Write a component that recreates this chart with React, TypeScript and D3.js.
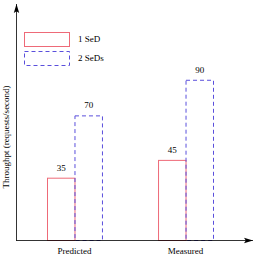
import React, { useRef, useEffect } from "react";
import * as d3 from "d3";

const categories = ["Predicted", "Measured"];
const seriesNames = ["1 SeD", "2 SeDs"];
const oneSeD = [35, 45];
const twoSeDs = [70, 90];

const RED = "#ee6a78";
const BLUE = "#5a4fdc";

export default function App() {
  const svgRef = useRef<SVGSVGElement>(null);

  useEffect(() => {
    if (!svgRef.current) return;
    const width = 257;
    const height = 257;
    const font = "'Liberation Serif', 'DejaVu Serif', serif";

    d3.select(svgRef.current).selectAll("*").remove();
    const svg = d3.select(svgRef.current).attr("width", width).attr("height", height);

    const x0 = 16;
    const y0 = 240;

    // value scale
    const y = d3.scaleLinear().domain([0, 132]).range([y0, y0 - 235]);

    // category bands
    const x = d3.scaleBand().domain(categories).range([47, 213]).paddingInner(0.505).paddingOuter(0);
    const xs = d3.scaleBand().domain(seriesNames).range([0, x.bandwidth()]);

    const defs = svg.append("defs");
    defs
      .append("marker")
      .attr("id", "arrow")
      .attr("viewBox", "0 0 10 10")
      .attr("refX", 10)
      .attr("refY", 5)
      .attr("markerWidth", 9)
      .attr("markerHeight", 9)
      .attr("markerUnits", "userSpaceOnUse")
      .attr("orient", "auto")
      .append("path")
      .attr("d", "M0,2 L10,5 L0,8 L2,5 Z")
      .attr("fill", "#000");

    const series = [
      { name: seriesNames[0], values: oneSeD, color: RED, dash: null },
      { name: seriesNames[1], values: twoSeDs, color: BLUE, dash: "4,3" },
    ];

    series.forEach((s) => {
      categories.forEach((c, i) => {
        const bx = (x(c) ?? 0) + (xs(s.name) ?? 0);
        svg
          .append("rect")
          .attr("x", bx + 0.5)
          .attr("y", y(s.values[i]) + 0.5)
          .attr("width", xs.bandwidth())
          .attr("height", y0 - y(s.values[i]))
          .attr("fill", "none")
          .attr("stroke", s.color)
          .attr("stroke-width", 1)
          .attr("stroke-dasharray", s.dash);
        svg
          .append("text")
          .attr("x", bx + xs.bandwidth() / 2 + 0.5)
          .attr("y", y(s.values[i]) - 7)
          .attr("text-anchor", "middle")
          .attr("font-family", font)
          .attr("font-size", 9)
          .text(s.values[i]);
      });
    });

    // axes
    svg
      .append("line")
      .attr("x1", x0 + 0.5)
      .attr("y1", y0 + 0.5)
      .attr("x2", x0 + 0.5)
      .attr("y2", 4)
      .attr("stroke", "#000")
      .attr("stroke-width", 0.8)
      .attr("marker-end", "url(#arrow)");
    svg
      .append("line")
      .attr("x1", x0)
      .attr("y1", y0 + 0.5)
      .attr("x2", 253)
      .attr("y2", y0 + 0.5)
      .attr("stroke", "#000")
      .attr("stroke-width", 0.8)
      .attr("marker-end", "url(#arrow)");

    categories.forEach((c) => {
      svg
        .append("text")
        .attr("x", (x(c) ?? 0) + x.bandwidth() / 2)
        .attr("y", 254)
        .attr("text-anchor", "middle")
        .attr("font-family", font)
        .attr("font-size", 9)
        .text(c);
    });

    svg
      .append("text")
      .attr("transform", "translate(9,137) rotate(-90)")
      .attr("text-anchor", "middle")
      .attr("font-family", font)
      .attr("font-size", 9)
      .text("Throughpt (requests/second)");

    // legend
    series.forEach((s, i) => {
      const ly = 32 + i * 19;
      svg
        .append("rect")
        .attr("x", 24.5)
        .attr("y", ly + 0.5)
        .attr("width", 45)
        .attr("height", 14)
        .attr("fill", "none")
        .attr("stroke", s.color)
        .attr("stroke-dasharray", s.dash);
      svg
        .append("text")
        .attr("x", 78)
        .attr("y", ly + 10)
        .attr("font-family", font)
        .attr("font-size", 9)
        .text(s.name);
    });
  }, []);

  return <svg ref={svgRef} style={{ position: "absolute", left: 0, top: 0 }}></svg>;
}
